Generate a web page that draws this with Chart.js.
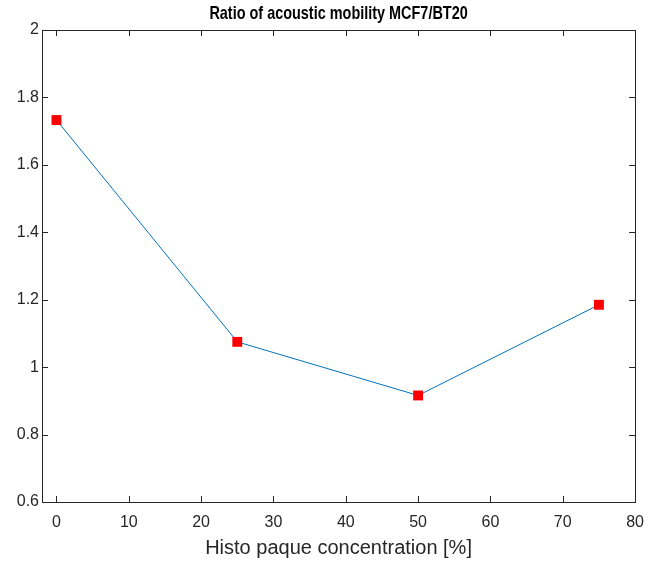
<!DOCTYPE html>
<html lang="en">
<head>
    <meta charset="UTF-8">
    <title>Ratio of acoustic mobility</title>
    <script src="https://cdn.jsdelivr.net/npm/chart.js"></script>
    <style>
        body { margin: 0; background: #fff; }
        #wrap { width: 655px; height: 563px; }
    </style>
</head>
<body>
    <div id="wrap"><canvas id="myChart"></canvas></div>

    <script>
        // Histopaque concentration (%) and MCF7/BT20 mobility ratio
        const concentration = [0, 25, 50, 75];
        const ratio = [1.733, 1.075, 0.916, 1.185];
        const xTicks = [0, 10, 20, 30, 40, 50, 60, 70, 80];
        const yTicks = [0.6, 0.8, 1, 1.2, 1.4, 1.6, 1.8, 2];
        const chartTitle = 'Ratio of acoustic mobility MCF7/BT20';

        const axisColor = '#262626';
        const fontFamily = '"Liberation Sans", Arial, Helvetica, sans-serif';

        // box around the plot area with ticks pointing inwards on all four sides
        const boxTicks = {
            id: 'boxTicks',
            afterDatasetsDraw(chart) {
                const { ctx, chartArea: a, scales } = chart;
                const len = 6;
                ctx.save();
                ctx.strokeStyle = axisColor;
                ctx.lineWidth = 1;
                ctx.beginPath();
                xTicks.forEach(v => {
                    const px = Math.round(scales.x.getPixelForValue(v)) + 0.5;
                    ctx.moveTo(px, a.bottom); ctx.lineTo(px, a.bottom - len);
                    ctx.moveTo(px, a.top); ctx.lineTo(px, a.top + len);
                });
                yTicks.forEach(v => {
                    const py = Math.round(scales.y.getPixelForValue(v)) + 0.5;
                    ctx.moveTo(a.left, py); ctx.lineTo(a.left + len, py);
                    ctx.moveTo(a.right, py); ctx.lineTo(a.right - len, py);
                });
                ctx.stroke();
                ctx.strokeRect(Math.round(a.left) + 0.5, Math.round(a.top) + 0.5,
                    Math.round(a.right - a.left), Math.round(a.bottom - a.top));
                ctx.restore();
            }
        };

        // condensed bold title centred over the plot area
        const narrowTitle = {
            id: 'narrowTitle',
            afterDraw(chart) {
                const { ctx, chartArea: a } = chart;
                const cx = (a.left + a.right) / 2;
                ctx.save();
                ctx.translate(cx, 14);
                ctx.scale(0.76, 1);
                ctx.font = 'bold 19px ' + fontFamily;
                ctx.fillStyle = '#000';
                ctx.textAlign = 'center';
                ctx.textBaseline = 'middle';
                ctx.fillText(chartTitle, 0, 0);
                ctx.restore();
            }
        };

        const ctx = document.getElementById('myChart').getContext('2d');
        const myChart = new Chart(ctx, {
            type: 'line',
            data: {
                datasets: [{
                    data: concentration.map((c, i) => ({ x: c, y: ratio[i] })),
                    borderColor: '#0072BD',
                    borderWidth: 1,
                    pointStyle: 'rect',
                    pointRadius: 7,
                    pointBackgroundColor: '#ff0000',
                    pointBorderColor: '#ff0000',
                    pointBorderWidth: 0,
                    tension: 0
                }]
            },
            options: {
                responsive: true,
                maintainAspectRatio: false,
                animation: false,
                layout: { padding: { left: 0, right: 12, top: 30, bottom: 0 } },
                plugins: {
                    legend: { display: false },
                    tooltip: { enabled: false },
                    title: { display: false }
                },
                scales: {
                    x: {
                        type: 'linear',
                        min: -2,
                        max: 80,
                        afterBuildTicks: s => { s.ticks = xTicks.map(v => ({ value: v })); },
                        afterFit: s => { s.height = 61; },
                        grid: { display: false, drawTicks: false },
                        border: { display: false },
                        ticks: {
                            color: axisColor,
                            padding: 11,
                            maxRotation: 0,
                            font: { family: fontFamily, size: 16 }
                        },
                        title: {
                            display: true,
                            text: 'Histo paque concentration [%]',
                            color: axisColor,
                            font: { family: fontFamily, size: 20, lineHeight: 1.2 },
                            padding: { top: 0, bottom: 3 }
                        }
                    },
                    y: {
                        min: 0.6,
                        max: 2,
                        afterBuildTicks: s => { s.ticks = yTicks.map(v => ({ value: v })); },
                        afterFit: s => { s.width = 42; },
                        grid: { display: false, drawTicks: false },
                        border: { display: false },
                        ticks: {
                            color: axisColor,
                            padding: 3,
                            font: { family: fontFamily, size: 16 },
                            callback: v => String(Math.round(v * 10) / 10)
                        }
                    }
                }
            },
            plugins: [boxTicks, narrowTitle]
        });
    </script>
</body>
</html>
